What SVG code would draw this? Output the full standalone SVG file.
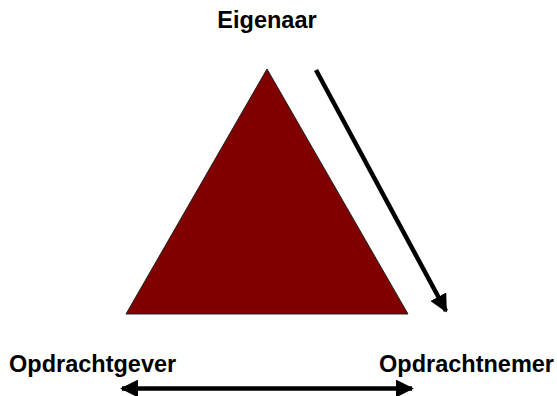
<svg xmlns="http://www.w3.org/2000/svg" width="557" height="396" viewBox="0 0 557 396">
<style>
.lbl{font-family:"Liberation Sans",Arial,sans-serif;font-weight:bold;font-size:23.5px;fill:#000}
.con{stroke:#000;stroke-width:4.5;fill:none}
</style>
<defs>
<marker id="ah" markerWidth="4" markerHeight="4" refX="3.6" refY="2" orient="auto" markerUnits="strokeWidth">
<path d="M0,0 L4,2 L0,4 Z" fill="#000"/>
</marker>
<marker id="ahs" markerWidth="4" markerHeight="4" refX="0.4" refY="2" orient="auto" markerUnits="strokeWidth">
<path d="M4,0 L0,2 L4,4 Z" fill="#000"/>
</marker>
</defs>
<rect width="557" height="396" fill="#fff"/>
<g id="triangle">
<polygon points="267,69 408,314 126,314" fill="#800000" stroke="#222" stroke-width="1"/>
</g>
<g id="eigenaar"><text class="lbl" x="267" y="28" text-anchor="middle">Eigenaar</text></g>
<g id="opdrachtgever"><text class="lbl" x="9" y="372">Opdrachtgever</text></g>
<g id="opdrachtnemer"><text class="lbl" x="379" y="372">Opdrachtnemer</text></g>
<g id="connectors">
<line class="con" x1="316" y1="70" x2="446" y2="311" marker-end="url(#ah)"/>
<line class="con" x1="122" y1="388.5" x2="412" y2="388.5" marker-start="url(#ahs)" marker-end="url(#ah)"/>
</g>
</svg>
